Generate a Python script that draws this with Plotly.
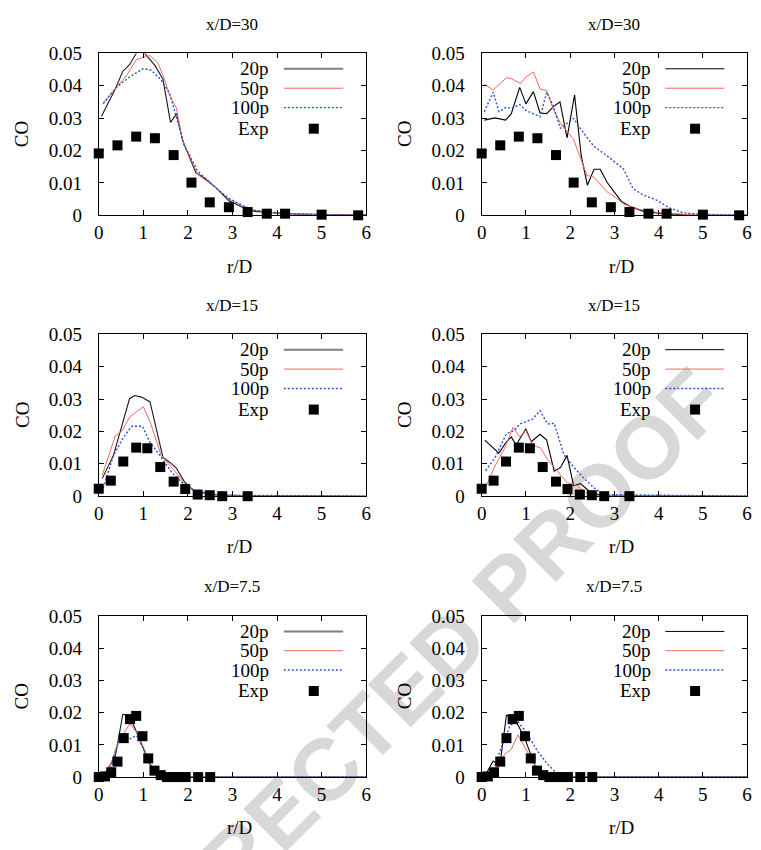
import plotly.graph_objects as go

# ---- experimental data (same measurements in both columns) ----
exp30_r = [0, 0.42, 0.84, 1.26, 1.68, 2.08, 2.49, 2.92, 3.34, 3.77, 4.18, 5.0, 5.82]
exp30_co = [0.0191, 0.0216, 0.0243, 0.0238, 0.0186, 0.0101, 0.0040, 0.0025, 0.0010, 0.0005, 0.0005, 0.0002, 0.0]

exp15_r = [0, 0.27, 0.55, 0.84, 1.09, 1.38, 1.68, 1.94, 2.22, 2.49, 2.77, 3.34]
exp15_co = [0.0023, 0.0048, 0.0107, 0.0150, 0.0148, 0.0090, 0.0045, 0.0022, 0.0005, 0.0003, 0.0, 0.0]

exp75_r = [0, 0.14, 0.28, 0.42, 0.56, 0.70, 0.84, 0.98, 1.11, 1.25, 1.39, 1.53, 1.67, 1.81, 1.95, 2.23, 2.50]
exp75_co = [0.0, 0.0002, 0.0015, 0.0048, 0.0121, 0.0180, 0.0190, 0.0127, 0.0058, 0.0020, 0.0006, 0.0, 0.0, 0.0, 0.0, 0.0, 0.0]

# ---- left column simulations ----
L30_20p_r = [0.06, 0.37, 0.54, 0.69, 0.85, 1.0, 1.26, 1.44, 1.61, 1.75, 1.88, 2.18, 2.36, 2.62, 2.92, 3.22, 3.5, 4.18, 5.0, 6.0]
L30_20p_co = [0.0305, 0.039, 0.0445, 0.0465, 0.0502, 0.0505, 0.0463, 0.042, 0.0287, 0.0314, 0.0231, 0.0131, 0.0116, 0.0086, 0.0045, 0.0025, 0.0012, 0.0005, 0.0002, 0.0001]
L30_50p_r = [0.1, 0.37, 0.63, 0.84, 1.0, 1.15, 1.33, 1.48, 1.59, 1.74, 1.88, 2.22, 2.62, 2.92, 3.22, 3.5, 4.18, 5.0, 6.0]
L30_50p_co = [0.0347, 0.0392, 0.0433, 0.048, 0.0488, 0.0493, 0.047, 0.0418, 0.037, 0.0332, 0.0231, 0.0126, 0.0086, 0.005, 0.003, 0.0015, 0.0005, 0.0002, 0.0001]
L30_100p_r = [0.1, 0.41, 0.7, 1.0, 1.18, 1.4, 1.59, 1.74, 1.92, 2.22, 2.62, 2.92, 3.22, 3.5, 4.18, 5.0, 6.0]
L30_100p_co = [0.0345, 0.0397, 0.0428, 0.0453, 0.0448, 0.0418, 0.0377, 0.0302, 0.0216, 0.0136, 0.0086, 0.0052, 0.003, 0.0015, 0.0005, 0.0002, 0.0001]

L15_20p_r = [0.08, 0.33, 0.69, 0.81, 0.96, 1.15, 1.44, 1.59, 1.74, 1.92, 2.11, 2.48, 3.0, 6.0]
L15_20p_co = [0.0055, 0.0126, 0.0301, 0.0311, 0.0306, 0.0291, 0.012, 0.0105, 0.0087, 0.0045, 0.002, 0.0005, 0.0002, 0.0]
L15_50p_r = [0.08, 0.37, 0.52, 0.69, 0.85, 1.0, 1.15, 1.4, 1.66, 1.92, 2.18, 2.7, 6.0]
L15_50p_co = [0.0065, 0.0186, 0.0201, 0.0244, 0.0261, 0.0276, 0.0231, 0.0126, 0.0085, 0.004, 0.0015, 0.0003, 0.0]
L15_100p_r = [0.1, 0.33, 0.55, 0.74, 0.98, 1.15, 1.37, 1.66, 1.92, 2.18, 2.7, 6.0]
L15_100p_co = [0.0025, 0.0126, 0.0181, 0.0216, 0.0216, 0.0166, 0.0126, 0.007, 0.0035, 0.0015, 0.0003, 0.0]

L75_20p_r = [0.09, 0.37, 0.54, 0.69, 0.85, 1.0, 1.18, 1.37, 1.6, 6.0]
L75_20p_co = [0.0, 0.0064, 0.0195, 0.0192, 0.0139, 0.0089, 0.0028, 0.0003, 0.0, 0.0]
L75_50p_r = [0.09, 0.26, 0.44, 0.7, 0.85, 1.0, 1.18, 1.37, 1.6, 6.0]
L75_50p_co = [0.0, 0.0038, 0.0109, 0.0166, 0.0139, 0.0094, 0.0033, 0.0005, 0.0, 0.0]
L75_100p_r = [0.09, 0.26, 0.48, 0.7, 0.85, 1.0, 1.18, 1.37, 1.6, 6.0]
L75_100p_co = [0.0, 0.0023, 0.0129, 0.0119, 0.0129, 0.0089, 0.0033, 0.0005, 0.0, 0.0]

# ---- right column simulations ----
R30_20p_r = [0.06, 0.3, 0.54, 0.67, 0.86, 1.0, 1.17, 1.32, 1.47, 1.64, 1.77, 1.93, 2.1, 2.25, 2.39, 2.54, 2.68, 2.83, 2.99, 3.16, 3.35, 3.64, 4.09, 4.8, 6.0]
R30_20p_co = [0.0294, 0.0301, 0.0294, 0.0314, 0.0395, 0.0344, 0.0382, 0.0316, 0.0314, 0.0338, 0.035, 0.0239, 0.0372, 0.0184, 0.0093, 0.0142, 0.0142, 0.0103, 0.0073, 0.0043, 0.0028, 0.0013, 0.0005, 0.0001, 0.0]
R30_50p_r = [0.06, 0.26, 0.56, 0.67, 0.88, 1.0, 1.17, 1.32, 1.47, 1.6, 1.78, 2.08, 2.38, 2.54, 2.83, 3.05, 3.2, 3.57, 4.01, 4.8, 6.0]
R30_50p_co = [0.0405, 0.0387, 0.0425, 0.0422, 0.0407, 0.0427, 0.0443, 0.039, 0.0385, 0.0334, 0.0284, 0.0234, 0.0123, 0.0118, 0.0073, 0.0053, 0.0035, 0.0018, 0.0008, 0.0001, 0.0]
R30_100p_r = [0.06, 0.26, 0.39, 0.56, 0.67, 0.86, 1.0, 1.32, 1.47, 1.6, 1.78, 2.08, 2.25, 2.53, 2.83, 3.05, 3.2, 3.42, 3.64, 3.94, 4.24, 4.54, 5.0, 6.0]
R30_100p_co = [0.032, 0.038, 0.032, 0.0334, 0.033, 0.0342, 0.0324, 0.0304, 0.038, 0.0344, 0.0269, 0.0299, 0.0264, 0.0214, 0.0184, 0.0159, 0.0144, 0.0083, 0.0063, 0.0048, 0.0023, 0.0008, 0.0003, 0.0]

R15_20p_r = [0.07, 0.39, 0.56, 0.67, 0.78, 1.0, 1.12, 1.32, 1.47, 1.64, 1.78, 1.93, 2.08, 2.23, 2.42, 2.7, 6.0]
R15_20p_co = [0.0173, 0.0133, 0.0168, 0.0183, 0.0158, 0.0208, 0.0168, 0.0191, 0.0173, 0.0077, 0.0088, 0.0126, 0.0032, 0.0039, 0.0017, 0.0002, 0.0]
R15_50p_r = [0.09, 0.3, 0.52, 0.71, 0.86, 1.0, 1.15, 1.34, 1.49, 1.71, 1.93, 2.16, 2.38, 2.6, 6.0]
R15_50p_co = [0.0027, 0.0093, 0.0148, 0.0213, 0.0183, 0.0203, 0.0158, 0.0148, 0.0113, 0.0077, 0.0042, 0.0032, 0.0009, 0.0002, 0.0]
R15_100p_r = [0.09, 0.3, 0.56, 0.74, 0.86, 1.15, 1.32, 1.49, 1.64, 1.86, 2.08, 2.3, 2.53, 2.75, 6.0]
R15_100p_co = [0.0079, 0.0118, 0.0193, 0.0203, 0.0223, 0.0238, 0.0264, 0.0223, 0.0225, 0.0128, 0.009, 0.0057, 0.0027, 0.0005, 0.0]

R75_20p_r = [0.06, 0.26, 0.41, 0.56, 0.71, 0.86, 1.0, 1.19, 1.41, 1.7, 6.0]
R75_20p_co = [0.0, 0.005, 0.0035, 0.0192, 0.0189, 0.0152, 0.0111, 0.004, 0.0005, 0.0, 0.0]
R75_50p_r = [0.06, 0.3, 0.52, 0.67, 0.82, 1.0, 1.19, 1.41, 1.7, 6.0]
R75_50p_co = [0.0, 0.002, 0.0071, 0.0086, 0.0131, 0.0086, 0.004, 0.0005, 0.0, 0.0]
R75_100p_r = [0.06, 0.26, 0.48, 0.65, 0.82, 1.0, 1.26, 1.49, 1.71, 1.9, 6.0]
R75_100p_co = [0.0, 0.002, 0.0106, 0.0162, 0.0172, 0.0141, 0.0081, 0.004, 0.001, 0.0, 0.0]

# ---- labels and ticks ----
panel_titles = ["x/D=30", "x/D=30", "x/D=15", "x/D=15", "x/D=7.5", "x/D=7.5"]
series_names = ["20p", "50p", "100p", "Exp"]
x_ticks = [0, 1, 2, 3, 4, 5, 6]
y_ticks = [0, 0.01, 0.02, 0.03, 0.04, 0.05]
y_tick_text = ["0", "0.01", "0.02", "0.03", "0.04", "0.05"]

panels = [
    (L30_20p_r, L30_20p_co, L30_50p_r, L30_50p_co, L30_100p_r, L30_100p_co, exp30_r, exp30_co),
    (R30_20p_r, R30_20p_co, R30_50p_r, R30_50p_co, R30_100p_r, R30_100p_co, exp30_r, exp30_co),
    (L15_20p_r, L15_20p_co, L15_50p_r, L15_50p_co, L15_100p_r, L15_100p_co, exp15_r, exp15_co),
    (R15_20p_r, R15_20p_co, R15_50p_r, R15_50p_co, R15_100p_r, R15_100p_co, exp15_r, exp15_co),
    (L75_20p_r, L75_20p_co, L75_50p_r, L75_50p_co, L75_100p_r, L75_100p_co, exp75_r, exp75_co),
    (R75_20p_r, R75_20p_co, R75_50p_r, R75_50p_co, R75_100p_r, R75_100p_co, exp75_r, exp75_co),
]

W, H = 761, 850
SERIF = "Liberation Serif"
COL_X = [(95, 366), (483, 752)]          # pixel extents of plot frames
ROW_Y = [(44.5, 210.5), (332.5, 498.5), (621.5, 786.5)]

RED = "#f06a5e"
BLUE = "#2c4fd0"

fig = go.Figure()
layout_axes = {}
annotations = []
shapes = []

for i, (r20, c20, r50, c50, r100, c100, re, ce) in enumerate(panels):
    row, col = divmod(i, 2)
    n = "" if i == 0 else str(i + 1)
    xa, ya = "x" + n, "y" + n
    x0p, x1p = COL_X[col]
    y0p, y1p = ROW_Y[row]
    xdom = [x0p / W, x1p / W]
    ydom = [1 - y1p / H, 1 - y0p / H]
    black = "#1a1a1a" if col == 0 else "black"

    fig.add_trace(go.Scatter(x=r20, y=c20, mode="lines", xaxis=xa, yaxis=ya,
                             line=dict(color=black, width=1.1), showlegend=False))
    fig.add_trace(go.Scatter(x=r50, y=c50, mode="lines", xaxis=xa, yaxis=ya,
                             line=dict(color=RED, width=1.0), showlegend=False))
    fig.add_trace(go.Scatter(x=r100, y=c100, mode="lines", xaxis=xa, yaxis=ya,
                             line=dict(color=BLUE, width=1.4, dash="2px,2px"), showlegend=False))
    fig.add_trace(go.Scatter(x=re, y=ce, mode="markers", xaxis=xa, yaxis=ya, cliponaxis=False,
                             marker=dict(symbol="square", size=10, color="black"), showlegend=False))

    common = dict(showline=True, linecolor="black", linewidth=1, mirror="ticks",
                  ticks="inside", ticklen=5, tickcolor="black", showgrid=False, zeroline=False,
                  tickfont=dict(family=SERIF, size=19, color="black"), fixedrange=True)
    layout_axes["xaxis" + n] = dict(domain=xdom, range=[0, 6], anchor=ya, tickvals=x_ticks,
                                    ticktext=[str(t) for t in x_ticks], ticklabelstandoff=0, **common)
    layout_axes["yaxis" + n] = dict(domain=ydom, range=[0, 0.05], anchor=xa, tickvals=y_ticks,
                                    ticktext=y_tick_text, ticklabelstandoff=12, **common)

    cx = (x0p + x1p) / 2
    # panel title, axis titles
    annotations.append(dict(text=panel_titles[i], x=cx / W, y=1 - (y0p - 30) / H, xref="paper", yref="paper",
                            showarrow=False, xanchor="center", yanchor="middle",
                            font=dict(family=SERIF, size=17, color="black")))
    annotations.append(dict(text="r/D", x=(cx + 7) / W, y=1 - (y1p + 52) / H, xref="paper", yref="paper",
                            showarrow=False, xanchor="center", yanchor="middle",
                            font=dict(family=SERIF, size=19, color="black")))
    annotations.append(dict(text="CO", x=(x0p - 78) / W, y=1 - ((y0p + y1p) / 2) / H, xref="paper", yref="paper",
                            showarrow=False, xanchor="center", yanchor="middle", textangle=-90,
                            font=dict(family=SERIF, size=19, color="black")))

    # key, drawn in the upper right of each panel
    xd, yd = xa + " domain", ya + " domain"
    key_y = [0.905, 0.785, 0.665, 0.535]
    for name, ky in zip(series_names, key_y):
        annotations.append(dict(text=name, x=0.645, y=ky, xref=xd, yref=yd, showarrow=False,
                                xanchor="right", yanchor="middle",
                                font=dict(family=SERIF, size=19, color="black")))
    key20 = dict(color="#7f7f7f", width=2) if col == 0 else dict(color="black", width=1)
    shapes.append(dict(type="line", xref=xd, yref=yd, x0=0.692, x1=0.914, y0=key_y[0], y1=key_y[0], line=key20))
    shapes.append(dict(type="line", xref=xd, yref=yd, x0=0.692, x1=0.914, y0=key_y[1], y1=key_y[1],
                       line=dict(color=RED, width=1)))
    shapes.append(dict(type="line", xref=xd, yref=yd, x0=0.692, x1=0.914, y0=key_y[2], y1=key_y[2],
                       line=dict(color=BLUE, width=1.4, dash="2px,2px")))
    shapes.append(dict(type="rect", xref=xd, yref=yd, xsizemode="pixel", ysizemode="pixel",
                       xanchor=0.804, yanchor=key_y[3], x0=-5, x1=5, y0=-5, y1=5,
                       fillcolor="black", line=dict(width=0)))

# diagonal watermark behind the plots
wm_x, wm_y = 388, 703
shapes.append(dict(type="rect", xref="paper", yref="paper", layer="below",
                   x0=(wm_x - 5) / W, x1=(wm_x + 5) / W, y0=1 - (wm_y + 5) / H, y1=1 - (wm_y - 5) / H,
                   line=dict(width=0), fillcolor="rgba(0,0,0,0)",
                   label=dict(text="<b>CORRECTED PROOF</b>", textangle=-45, textposition="middle center",
                              font=dict(family="Liberation Sans", size=88, color="#d8d8d8"))))

fig.update_layout(
    width=W, height=H,
    margin=dict(l=0, r=0, t=0, b=0),
    paper_bgcolor="white", plot_bgcolor="rgba(0,0,0,0)",
    showlegend=False,
    annotations=annotations,
    shapes=shapes,
    **layout_axes,
)

fig.write_html("out.html")
